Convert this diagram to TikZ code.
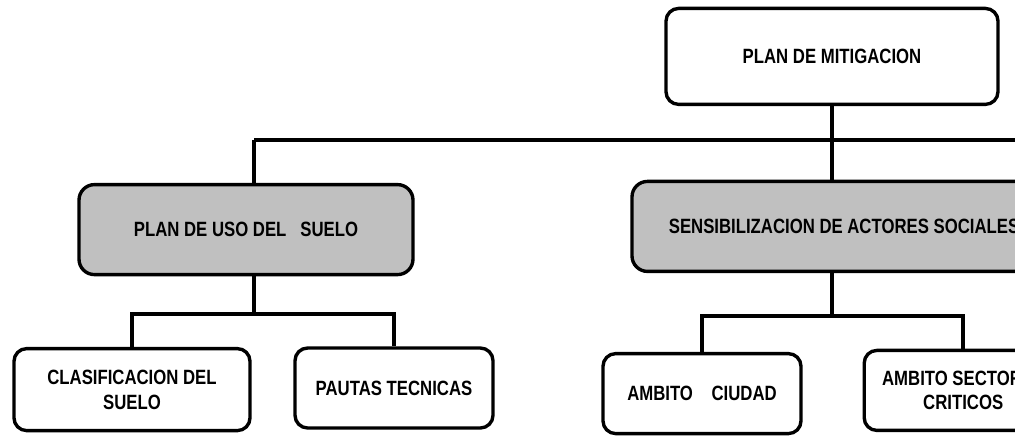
\documentclass[tikz,border=0pt]{standalone}
\usepackage{fontspec}
\setmainfont{Liberation Sans}[FakeStretch=0.81]
\usepackage{tikz}
\usetikzlibrary{positioning, calc}
\definecolor{boxgray}{RGB}{192,192,192}

\begin{document}
\begin{tikzpicture}[
    unit/.style={rectangle, rounded corners=9pt, draw=black, line width=2.4pt, fill=white, inner sep=0pt, align=center, font=\bfseries\fontsize{14.7}{17.7}\selectfont},
    area/.style={unit, fill=boxgray, rounded corners=11pt},
    link/.style={line width=2.8pt, black},
]
\useasboundingbox (0,0) rectangle (25.375,-10.9);
\clip (0,0) rectangle (25.375,-10.9);

\node[unit, minimum width=8.3cm, minimum height=2.4cm] (mitig) at (20.8,-1.41) {PLAN DE MITIGACION};
\node[area, minimum width=8.35cm, minimum height=2.25cm] (uso) at (6.15,-5.74) {PLAN DE USO DEL~~~SUELO};
\node[area, minimum width=10.6cm, minimum height=2.25cm] (sens) at (21.1,-5.66) {SENSIBILIZACION DE ACTORES SOCIALES};
\node[unit, minimum width=5.9cm, minimum height=2.05cm] (clasif) at (3.3,-9.74) {CLASIFICACION DEL\\SUELO};
\node[unit, minimum width=4.95cm, minimum height=2.0cm] (pautas) at (9.85,-9.7) {PAUTAS TECNICAS};
\node[unit, minimum width=4.95cm, minimum height=2.0cm] (ciudad) at (17.55,-9.84) {AMBITO~~~~CIUDAD};
\node[unit, minimum width=4.95cm, minimum height=2.0cm] (sect) at (24.08,-9.76) {AMBITO SECTORES\\CRITICOS};

\coordinate (busL) at (6.35,-3.5);
\coordinate (busR) at (25.6,-3.5);
\coordinate (subL) at (6.35,-7.85);
\coordinate (subR) at (20.8,-7.9);

\draw[link] (mitig.south) -- (mitig.south |- sens.north);
\draw[link] (busL) -- (busR);
\draw[link] (busL) -- (busL |- uso.north);
\draw[link] (uso.south -| subL) -- (subL);
\draw[link] (clasif.north) |- (subL) -| (pautas.north);
\draw[link] (sens.south -| subR) -- (subR);
\draw[link] (ciudad.north) |- (subR) -| (sect.north);
\end{tikzpicture}
\end{document}
